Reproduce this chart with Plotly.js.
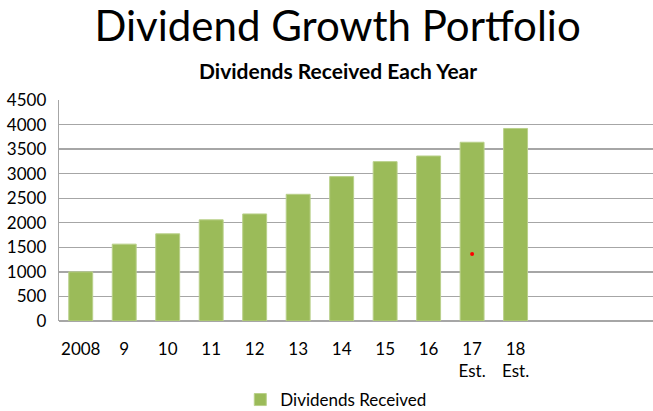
<!DOCTYPE html>
<html>
<head>
<meta charset="utf-8">
<script src="https://cdn.plot.ly/plotly-3.0.1.min.js"></script>
<style>html,body{margin:0;padding:0;background:#fff;}#chart{width:653px;height:411px;}</style>
</head>
<body>
<div id="chart"></div>
<script>
const categories = ["2008","9","10","11","12","13","14","15","16","17<br>Est.","18<br>Est."];
const dividends = [1000,1565,1775,2060,2180,2580,2940,3245,3360,3640,3920];
const markerCategory = ["17<br>Est."];
const markerValue = [1365];
const yTicks = [0,500,1000,1500,2000,2500,3000,3500,4000,4500];

const FONT = "Lato, 'Open Sans', sans-serif";

const traces = [
  {
    type: "bar",
    name: "Dividends Received",
    x: categories,
    y: dividends,
    marker: {color: "#9BBB59", line: {color: "#b9d08a", width: 1}},
    hoverinfo: "none"
  },
  {
    type: "scatter",
    mode: "markers",
    x: markerCategory,
    y: markerValue,
    marker: {color: "#ff0000", size: 4},
    showlegend: false,
    hoverinfo: "none"
  }
];

const layout = {
  width: 653,
  height: 411,
  margin: {l: 59, r: 0, t: 100, b: 90},
  paper_bgcolor: "#ffffff",
  plot_bgcolor: "#ffffff",
  font: {family: FONT, color: "#000000", size: 16},
  title: {
    text: "Dividend Growth Portfolio",
    font: {family: FONT, size: 42, color: "#000000"},
    x: 0.517, xref: "container", xanchor: "center",
    y: 0.937, yref: "container", yanchor: "middle"
  },
  annotations: [{
    text: "<b>Dividends Received Each Year</b>",
    xref: "paper", yref: "paper",
    x: (338 - 59) / 594, y: (321 - 70) / 221,
    xanchor: "center", yanchor: "middle",
    showarrow: false,
    font: {family: FONT, size: 21, color: "#000000"}
  }],
  bargap: 0.45,
  xaxis: {
    type: "category",
    range: [-0.5, 13.16],
    showgrid: false,
    showline: false,
    ticks: "",
    tickfont: {family: FONT, size: 17, color: "#000000"},
    ticklabelstandoff: 16,
    fixedrange: true
  },
  yaxis: {
    range: [0, 4500],
    tickvals: yTicks,
    ticktext: yTicks.map(String),
    showgrid: true,
    gridcolor: "#a6a6a6",
    gridwidth: 1.3,
    zeroline: true,
    zerolinecolor: "#a6a6a6",
    zerolinewidth: 1.3,
    showline: true,
    linecolor: "#a6a6a6",
    linewidth: 1.3,
    ticks: "",
    tickfont: {family: FONT, size: 17, color: "#000000"},
    ticklabelstandoff: 8,
    fixedrange: true
  },
  showlegend: true,
  legend: {
    orientation: "h",
    xref: "container", yref: "container",
    x: 0.515, y: 1 - 400/411,
    xanchor: "center", yanchor: "middle",
    font: {family: FONT, size: 17, color: "#000000"},
    itemwidth: 20
  }
};

Plotly.newPlot("chart", traces, layout, {displayModeBar: false, staticPlot: true});
</script>
</body>
</html>
